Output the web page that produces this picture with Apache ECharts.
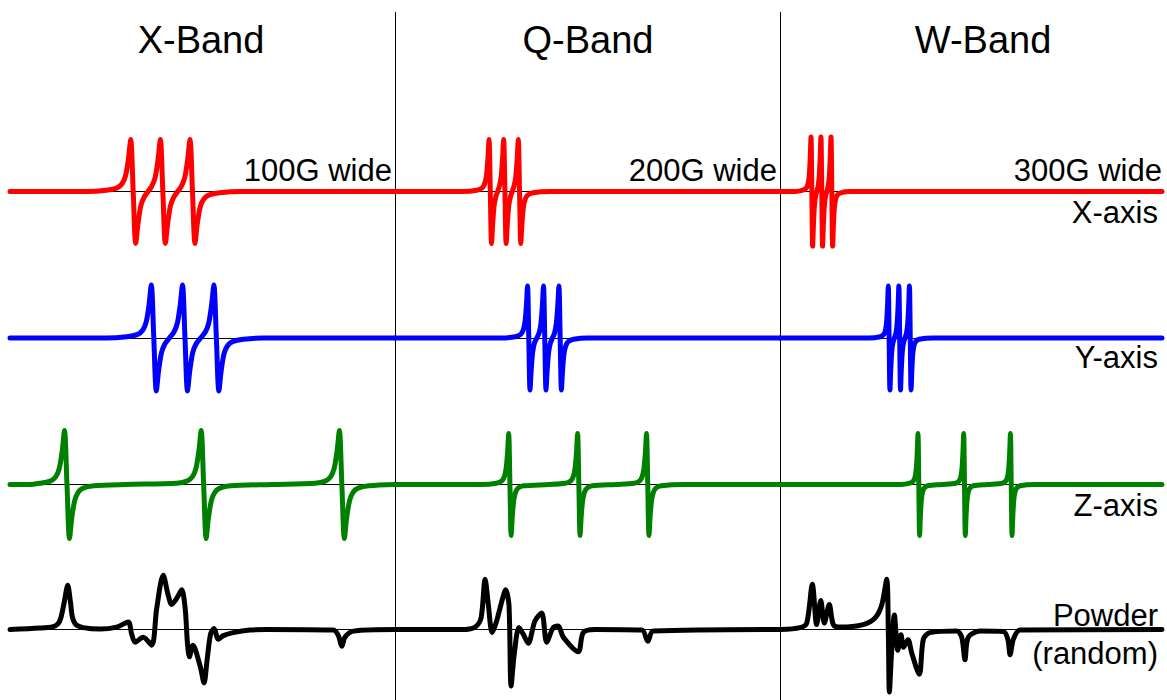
<!DOCTYPE html>
<html>
<head>
<meta charset="utf-8">
<script src="https://cdn.jsdelivr.net/npm/echarts@6/dist/echarts.min.js"></script>
<style>
  html, body { margin: 0; padding: 0; background: #fff; }
  #chart { width: 1167px; height: 700px; }
</style>
</head>
<body>
<div id="chart"></div>
<script>
// field sweep of each band (G) and the labels
var bands = ["X-Band", "Q-Band", "W-Band"];
var sweepWidth = [100, 200, 300];
var sweepLabels = ["100G wide", "200G wide", "300G wide"];
var rowLabels = ["X-axis", "Y-axis", "Z-axis", "Powder\n(random)"];

// traces: [field (G), derivative signal]
var redX = [[0,0],[20,0],[25.0,0.025],[27.8,0.07],[29.1,0.15],[30.0,0.3],[30.75,0.62],[31.35,1],[32.0,0],[32.65,-1],[33.25,-0.62],[34.0,-0.27],[34.9,-0.1],[35.85,0],[36.8,0.1],[37.7,0.27],[38.45,0.62],[39.05,1],[39.7,0],[40.35,-1],[40.95,-0.62],[41.7,-0.27],[42.6,-0.1],[43.55,0],[44.5,0.1],[45.4,0.27],[46.15,0.62],[46.75,1],[47.4,0],[48.05,-1],[48.65,-0.62],[49.4,-0.3],[50.3,-0.15],[51.6,-0.07],[54.4,-0.025],[60,0],[100,0]];
var redQ = [[0,0],[35,0],[42.5,0.025],[45.3,0.07],[46.6,0.15],[47.5,0.3],[48.25,0.62],[48.85,1],[49.5,0],[50.15,-1],[50.75,-0.62],[51.5,-0.27],[52.4,-0.1],[53.3,0],[54.2,0.1],[55.1,0.27],[55.85,0.62],[56.45,1],[57.1,0],[57.75,-1],[58.35,-0.62],[59.1,-0.27],[60.0,-0.1],[60.9,0],[61.8,0.1],[62.7,0.27],[63.45,0.62],[64.05,1],[64.7,0],[65.35,-1],[65.95,-0.62],[66.7,-0.3],[67.6,-0.15],[68.9,-0.07],[71.7,-0.025],[80,0],[200,0]];
var redW = [[0,0],[12,0],[18.0,0.025],[20.8,0.07],[22.1,0.16],[23.0,0.32],[23.75,0.65],[24.35,1.05],[25.0,0],[25.65,-1.05],[26.25,-0.65],[27.0,-0.28],[27.9,-0.1],[28.9,0],[29.9,0.1],[30.8,0.28],[31.55,0.65],[32.15,1.05],[32.8,0],[33.45,-1.05],[34.05,-0.65],[34.8,-0.28],[35.7,-0.1],[36.75,0],[37.8,0.1],[38.7,0.28],[39.45,0.65],[40.05,1.05],[40.7,0],[41.35,-1.05],[41.95,-0.65],[42.7,-0.32],[43.6,-0.16],[44.9,-0.07],[47.7,-0.025],[55,0],[300,0]];

var blueX = [[0,0],[25,0],[30.35,0.025],[33.15,0.07],[34.45,0.15],[35.35,0.3],[36.1,0.63],[36.7,1.02],[37.35,0],[38.0,-1.02],[38.6,-0.63],[39.35,-0.28],[40.25,-0.11],[41.4,0],[42.55,0.11],[43.45,0.28],[44.2,0.63],[44.8,1.02],[45.45,0],[46.1,-1.02],[46.7,-0.63],[47.45,-0.28],[48.35,-0.11],[49.5,0],[50.7,0.11],[51.6,0.28],[52.35,0.63],[52.95,1.02],[53.6,0],[54.25,-1.02],[54.85,-0.63],[55.6,-0.3],[56.5,-0.15],[57.8,-0.07],[60.6,-0.025],[66,0],[100,0]];
var blueQ = [[0,0],[55,0],[62.5,0.025],[65.3,0.07],[66.6,0.15],[67.5,0.3],[68.25,0.62],[68.85,1],[69.5,0],[70.15,-1],[70.75,-0.62],[71.5,-0.28],[72.4,-0.1],[73.65,0],[74.9,0.1],[75.8,0.28],[76.55,0.62],[77.15,1],[77.8,0],[78.45,-1],[79.05,-0.62],[79.8,-0.28],[80.7,-0.1],[81.8,0],[82.9,0.1],[83.8,0.28],[84.55,0.62],[85.15,1],[85.8,0],[86.45,-1],[87.05,-0.62],[87.8,-0.3],[88.7,-0.15],[90.0,-0.07],[92.8,-0.025],[100,0],[200,0]];
var blueW = [[0,0],[70,0],[78.7,0.025],[81.5,0.07],[82.8,0.15],[83.7,0.3],[84.45,0.62],[85.05,1],[85.7,0],[86.35,-1],[86.95,-0.62],[87.7,-0.28],[88.6,-0.1],[89.85,0],[91.1,0.1],[92.0,0.28],[92.75,0.62],[93.35,1],[94.0,0],[94.65,-1],[95.25,-0.62],[96.0,-0.28],[96.9,-0.1],[98.15,0],[99.4,0.1],[100.3,0.28],[101.05,0.62],[101.65,1],[102.3,0],[102.95,-1],[103.55,-0.62],[104.3,-0.3],[105.2,-0.15],[106.5,-0.07],[109.3,-0.025],[120,0],[300,0]];

var greenX = [[0,0],[5,0],[7.8,0.025],[10.6,0.07],[11.9,0.15],[12.8,0.31],[13.55,0.64],[14.15,1.04],[14.8,0],[15.45,-1.04],[16.05,-0.64],[16.8,-0.31],[17.7,-0.15],[19.0,-0.07],[21.8,-0.025],[30,0],[43.3,0.025],[46.1,0.07],[47.4,0.15],[48.3,0.31],[49.05,0.64],[49.65,1.04],[50.3,0],[50.95,-1.04],[51.55,-0.64],[52.3,-0.31],[53.2,-0.15],[54.5,-0.07],[57.3,-0.025],[68,0],[79.2,0.025],[82.0,0.07],[83.3,0.15],[84.2,0.31],[84.95,0.64],[85.55,1.04],[86.2,0],[86.85,-1.04],[87.45,-0.64],[88.2,-0.31],[89.1,-0.15],[90.4,-0.07],[93.2,-0.025],[100,0]];
var greenQ = [[0,0],[45,0],[52.7,0.025],[55.5,0.07],[56.8,0.15],[57.7,0.3],[58.45,0.6],[59.05,0.98],[59.7,0],[60.35,-0.98],[60.95,-0.6],[61.7,-0.3],[62.6,-0.15],[63.9,-0.07],[66.7,-0.025],[80,0],[88.5,0.025],[91.3,0.07],[92.6,0.15],[93.5,0.3],[94.25,0.6],[94.85,0.98],[95.5,0],[96.15,-0.98],[96.75,-0.6],[97.5,-0.3],[98.4,-0.15],[99.7,-0.07],[102.5,-0.025],[115,0],[124.3,0.025],[127.1,0.07],[128.4,0.15],[129.3,0.3],[130.05,0.6],[130.65,0.98],[131.3,0],[131.95,-0.98],[132.55,-0.6],[133.3,-0.3],[134.2,-0.15],[135.5,-0.07],[138.3,-0.025],[150,0],[200,0]];
var greenW = [[0,0],[95,0],[102.0,0.025],[104.8,0.07],[106.1,0.15],[107.0,0.3],[107.75,0.6],[108.35,0.98],[109.0,0],[109.65,-0.98],[110.25,-0.6],[111.0,-0.3],[111.9,-0.15],[113.2,-0.07],[116.0,-0.025],[127,0],[137.9,0.025],[140.7,0.07],[142.0,0.15],[142.9,0.3],[143.65,0.6],[144.25,0.98],[144.9,0],[145.55,-0.98],[146.15,-0.6],[146.9,-0.3],[147.8,-0.15],[149.1,-0.07],[151.9,-0.025],[163,0],[174.6,0.025],[177.4,0.07],[178.7,0.15],[179.6,0.3],[180.35,0.6],[180.95,0.98],[181.6,0],[182.25,-0.98],[182.85,-0.6],[183.6,-0.3],[184.5,-0.15],[185.8,-0.07],[188.6,-0.025],[200,0],[300,0]];

var blackX = [[0,0],[7.8,0.03],[11.2,0.06],[12.5,0.12],[13.2,0.23],[14.1,0.55],[15.0,0.88],[15.7,0.55],[16.2,0.25],[17.1,0.1],[19.0,0.04],[23.4,0.01],[27.7,0.05],[30.7,0.15],[31.6,-0.09],[32.5,-0.25],[34.6,-0.15],[36.8,-0.31],[38.1,0.42],[39.8,1.08],[41.1,0.68],[42.0,0.5],[43.3,0.62],[44.6,0.79],[45.5,0.42],[46.1,-0.28],[46.6,-0.54],[47.5,-0.31],[49.4,-0.73],[50.4,-1.06],[51.2,-0.6],[52.1,-0.09],[53.0,0.02],[54.1,-0.19],[55.4,-0.12],[58.0,-0.06],[62.3,-0.01],[66.7,0],[84.0,-0.01],[85.3,-0.12],[86.2,-0.33],[87.0,-0.15],[89.2,-0.03],[100,0]];
var blackQ = [[0,0],[34.6,0],[41.6,0.05],[44.7,0.23],[46.8,1.0],[48.5,0.49],[50.5,-0.06],[52.8,0.17],[55.4,0.55],[57.5,0.79],[59.2,0.49],[60.3,-1.12],[62.0,-0.47],[64.4,0.04],[66.6,-0.09],[69.2,-0.27],[72.7,0.17],[76.2,0.33],[78.8,-0.25],[82.2,0.04],[84.8,0.07],[87.4,-0.15],[95.2,-0.44],[97.8,-0.06],[103.9,0],[128.2,-0.01],[131.3,-0.23],[134.2,-0.03],[200,0]];
var blackW = [[0,0],[15.7,0.04],[21.0,0.13],[25.4,0.9],[28.8,0.1],[32.0,0.58],[34.8,0.13],[38.7,0.5],[41.9,0.1],[47.1,0.05],[65.4,0.1],[74.6,0.23],[79.9,0.49],[83.8,1.0],[85.1,-0.09],[85.9,-1.24],[87.7,-0.41],[89.8,0.29],[92.5,-0.41],[95,-0.1],[97,-0.35],[100.5,-0.2],[103.5,-0.47],[109.4,-0.89],[112.6,-0.19],[117.8,-0.06],[138.8,-0.03],[142.7,-0.15],[145.3,-0.6],[147.9,-0.15],[157.1,-0.03],[175.4,-0.04],[178.9,-0.19],[180.7,-0.5],[183.3,-0.19],[188.5,-0.01],[300,0]];

var traces = [
  [redX, redQ, redW],
  [blueX, blueQ, blueW],
  [greenX, greenQ, greenW],
  [blackX, blackQ, blackW]
];
var rowColors = ["#ff0000", "#0000ff", "#008000", "#000000"];

// layout
var panelLeft = [10, 395, 780];
var panelWidth = [385, 385, 382];
var rowZero = [191.5, 338, 484.5, 632];
var pxPerUnit = 52;
var yLim = 1.4;
var font = "Liberation Sans, Arial, sans-serif";

var chart = echarts.init(document.getElementById("chart"), null, { renderer: "svg" });

var grids = [], xAxes = [], yAxes = [], series = [];
traces.forEach(function (row, r) {
  row.forEach(function (data, p) {
    var idx = grids.length;
    grids.push({
      left: panelLeft[p],
      width: panelWidth[p],
      top: rowZero[r] - yLim * pxPerUnit,
      height: 2 * yLim * pxPerUnit,
      containLabel: false
    });
    xAxes.push({
      gridIndex: idx,
      type: "value",
      min: 0,
      max: sweepWidth[p],
      axisLine: { show: true, onZero: true, lineStyle: { color: "#000", width: 1 } },
      axisTick: { show: false },
      axisLabel: { show: false },
      splitLine: { show: false }
    });
    yAxes.push({
      gridIndex: idx,
      type: "value",
      min: -yLim,
      max: yLim,
      show: false
    });
    series.push({
      type: "line",
      xAxisIndex: idx,
      yAxisIndex: idx,
      data: data,
      showSymbol: false,
      smooth: 0.3,
      silent: true,
      clip: false,
      lineStyle: { color: rowColors[r], width: 5, cap: "round", join: "round" }
    });
  });
});

var graphics = [];
// panel separators
[395.5, 780.5].forEach(function (x) {
  graphics.push({
    type: "line", z: 0,
    shape: { x1: x, y1: 12, x2: x, y2: 700 },
    style: { stroke: "#000", lineWidth: 1 }
  });
});
// band titles
var titleCenter = [201, 588, 983];
bands.forEach(function (t, p) {
  graphics.push({
    type: "text", x: titleCenter[p], y: 40,
    style: { text: t, font: "38px " + font, fill: "#000", textAlign: "center", textVerticalAlign: "middle" }
  });
});
// sweep width labels
var sweepRight = [392, 777, 1162];
sweepLabels.forEach(function (t, p) {
  graphics.push({
    type: "text", x: sweepRight[p], y: 170, z: 10,
    style: { text: t, font: "31px " + font, fill: "#000", textAlign: "right", textVerticalAlign: "middle" }
  });
});
// row labels
var rowLabelY = [212, 357, 505, 634];
rowLabels.forEach(function (t, r) {
  graphics.push({
    type: "text", x: 1158, y: rowLabelY[r], z: 10,
    style: { text: t, font: "31px " + font, fill: "#000", textAlign: "right", textVerticalAlign: "middle", lineHeight: 38 }
  });
});

chart.setOption({
  animation: false,
  backgroundColor: "#fff",
  grid: grids,
  xAxis: xAxes,
  yAxis: yAxes,
  series: series,
  graphic: graphics
});
</script>
</body>
</html>
